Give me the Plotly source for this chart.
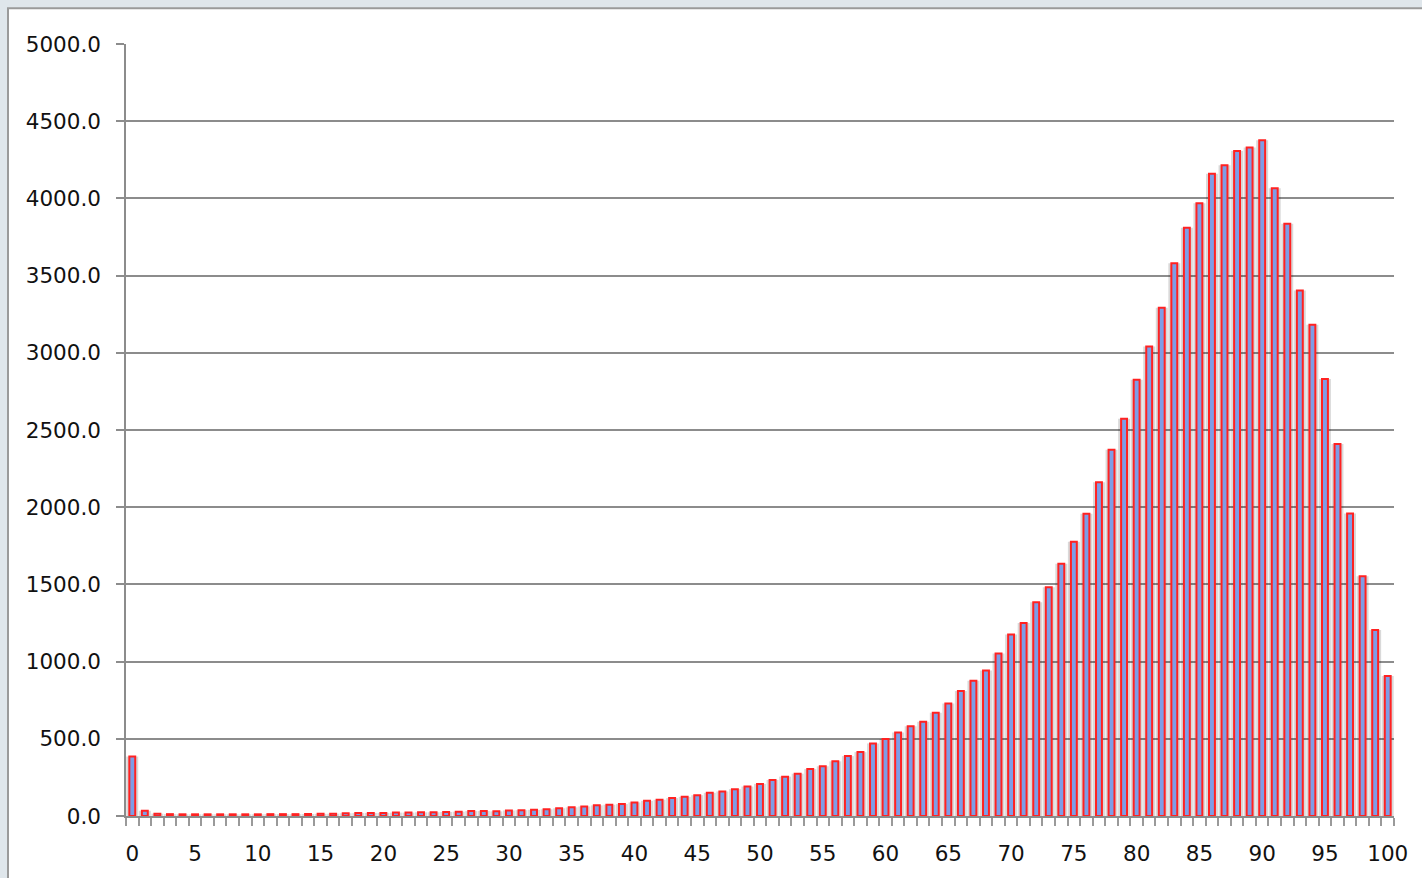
import plotly.graph_objects as go

# Categories (scores 0..100)
scores = list(range(0, 101))

# Frequency per score
counts = [
    385, 34, 15, 12, 11, 11, 11, 11, 11, 11,
    11, 12, 12, 12, 13, 14, 15, 18, 19, 20,
    20, 22, 22, 24, 24, 26, 28, 32, 32, 30,
    36, 38, 40, 44, 50, 56, 62, 69, 73, 77,
    88, 98, 105, 116, 124, 135, 150, 159, 174, 191,
    208, 233, 255, 274, 304, 322, 354, 388, 414, 470,
    498, 540, 582, 610, 669, 728, 810, 876, 942, 1052,
    1175, 1250, 1385, 1482, 1634, 1776, 1958, 2162, 2372, 2573,
    2825, 3040, 3292, 3580, 3810, 3968, 4159, 4214, 4307, 4330,
    4376, 4065, 3836, 3403, 3182, 2830, 2409, 1960, 1552, 1204,
    906,
]

y_ticks = [0, 500, 1000, 1500, 2000, 2500, 3000, 3500, 4000, 4500, 5000]
x_ticks = [0, 5, 10, 15, 20, 25, 30, 35, 40, 45, 50, 55, 60, 65, 70, 75, 80, 85, 90, 95, 100]

W, H = 1422, 878
ML, MR, MT, MB = 126, 28, 44, 54
pw = W - ML - MR
ph = H - MT - MB

fig = go.Figure()

# soft shadow behind bars
fig.add_trace(go.Bar(
    x=scores, y=counts, width=0.95,
    marker=dict(color="rgba(0,0,0,0.15)", line=dict(width=0)),
    hoverinfo="skip", showlegend=False,
))
fig.add_trace(go.Bar(
    x=scores, y=counts, width=0.47,
    marker=dict(color="#7e9de6", line=dict(color="#ff2222", width=2)),
    showlegend=False,
))

def px_x(p):
    return (p - ML) / pw

def px_y(p):
    return (H - MB - p) / ph

fig.add_shape(
    type="rect", xref="paper", yref="paper", layer="below",
    x0=px_x(8), x1=px_x(W + 20), y0=px_y(H + 20), y1=px_y(8),
    fillcolor="white", line=dict(color="#9a9a9a", width=2),
)

fig.update_layout(
    width=W, height=H,
    margin=dict(l=ML, r=MR, t=MT, b=MB, pad=0),
    paper_bgcolor="#dfe6eb",
    plot_bgcolor="rgba(0,0,0,0)",
    barmode="overlay",
    font=dict(family="DejaVu Sans", size=21.5, color="#111111"),
    xaxis=dict(
        range=[-0.5, 100.5],
        tickmode="array", tickvals=x_ticks, ticktext=[str(v) for v in x_ticks],
        ticks="", showgrid=False, zeroline=False,
        showline=True, linecolor="#8c8c8c", linewidth=1.5,
        ticklabelstandoff=17,
        minor=dict(tickmode="linear", tick0=-0.5, dtick=1, ticks="outside",
                   ticklen=8, tickwidth=1.5, tickcolor="#9a9a9a", showgrid=False),
    ),
    yaxis=dict(
        range=[0, 5000],
        tickmode="array", tickvals=y_ticks, tickformat=".1f",
        ticks="outside", ticklen=8, tickwidth=1.5, tickcolor="#8c8c8c",
        showgrid=True, gridcolor="#8c8c8c", gridwidth=1.5,
        zeroline=False,
        showline=True, linecolor="#8c8c8c", linewidth=1.5,
        ticklabelstandoff=11,
    ),
)

fig.write_html(
    "out.html",
    config={"displayModeBar": False},
    post_script="document.body.style.margin='0';document.body.style.overflow='hidden';",
)
